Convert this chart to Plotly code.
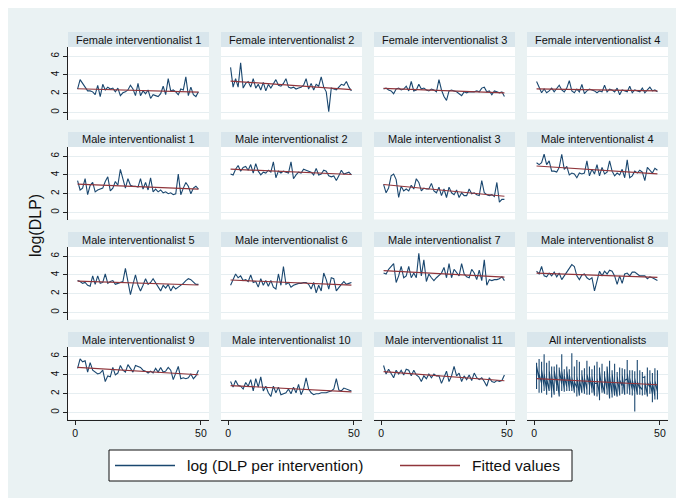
import numpy as np
import plotly.graph_objects as go

# ---------------- data ----------------
panel_titles = [
    "Female interventionalist 1", "Female interventionalist 2",
    "Female interventionalist 3", "Female interventionalist 4",
    "Male interventionalist 1", "Male interventionalist 2",
    "Male interventionalist 3", "Male interventionalist 4",
    "Male interventionalist 5", "Male interventionalist 6",
    "Male interventionalist 7", "Male interventionalist 8",
    "Male interventionalist 9", "Male interventionalist 10",
    "Male interventionalist 11", "All interventionalists",
]

female_1 = [2.5, 3.5, 3.1, 2.7, 2.3, 2.3, 2.2, 1.9, 2.9, 1.7,
            3.0, 2.4, 2.7, 2.5, 2.6, 2.2, 2.6, 1.8, 2.1, 2.2,
            2.4, 2.9, 2.5, 1.8, 3.1, 1.8, 2.3, 2.0, 2.4, 1.5,
            1.9, 1.8, 1.7, 2.0, 2.8, 1.9, 3.6, 2.3, 2.4, 2.2,
            1.9, 2.5, 2.4, 3.8, 1.8, 2.7, 1.9, 1.7, 2.2]
female_2 = [4.8, 2.7, 3.6, 2.7, 5.3, 2.6, 3.1, 3.3, 2.7, 3.6,
            2.6, 3.0, 2.4, 3.2, 2.3, 3.0, 2.6, 3.1, 3.5, 2.9,
            2.8, 3.1, 3.6, 2.7, 2.6, 2.7, 2.5, 2.6, 2.7, 2.9,
            3.6, 2.5, 3.1, 2.4, 3.0, 2.8, 3.8, 2.7, 2.2, 0.1,
            2.6, 2.5, 2.4, 2.7, 3.0, 2.9, 3.3, 2.7, 2.3]
female_3 = [2.5, 2.6, 2.4, 2.3, 2.0, 2.5, 2.6, 2.4, 2.5, 2.8,
            2.3, 3.3, 2.3, 2.4, 3.0, 2.5, 2.6, 2.4, 2.3, 2.5,
            2.4, 2.2, 3.5, 2.4, 1.7, 1.3, 2.3, 2.4, 2.3, 2.2,
            2.0, 1.8, 2.2, 2.1, 2.2, 2.2, 2.2, 2.3, 2.2, 2.6,
            2.7, 2.2, 2.3, 1.9, 2.3, 2.2, 2.1, 2.2, 1.7]
female_4 = [3.3, 2.6, 2.1, 2.5, 2.1, 2.3, 2.6, 2.2, 2.5, 2.9,
            2.4, 2.2, 2.6, 3.4, 2.3, 2.1, 2.5, 2.2, 3.0, 2.0,
            2.3, 2.5, 2.4, 2.3, 2.1, 2.3, 2.2, 2.9, 2.2, 2.5,
            2.4, 2.2, 2.6, 1.9, 2.4, 2.3, 2.2, 2.8, 2.1, 2.4,
            2.3, 2.2, 2.6, 2.1, 2.4, 2.7, 2.3, 2.4, 2.2]
male_1 = [3.4, 2.4, 2.6, 3.6, 1.9, 2.9, 3.2, 2.2, 2.4, 2.5,
          2.6, 3.3, 3.8, 2.3, 2.6, 3.3, 2.9, 4.6, 3.7, 2.6,
          3.6, 2.9, 2.8, 2.8, 2.7, 3.6, 2.5, 3.2, 2.4, 3.7,
          2.2, 2.5, 2.2, 2.4, 2.1, 2.2, 2.0, 2.1, 1.9, 2.0,
          4.1, 1.9, 2.6, 3.2, 2.8, 2.0, 2.6, 2.8, 2.5]
male_2 = [4.1, 4.0, 4.6, 5.0, 4.4, 4.8, 4.9, 4.5, 5.1, 4.2,
          5.2, 4.4, 4.0, 4.3, 4.2, 4.5, 4.3, 5.4, 3.7, 4.4,
          4.2, 4.4, 4.3, 4.2, 5.4, 3.6, 4.0, 4.3, 4.2, 4.6,
          4.5, 4.4, 4.3, 4.0, 4.7, 4.0, 4.1, 4.5, 4.4, 3.9,
          3.8, 3.9, 3.4, 3.9, 4.5, 4.1, 4.2, 4.3, 4.0]
male_3 = [3.0, 2.1, 2.6, 3.9, 4.1, 3.5, 1.6, 2.8, 2.3, 2.5,
          2.3, 2.9, 2.5, 3.6, 3.2, 2.3, 2.6, 2.5, 2.5, 3.1,
          2.3, 2.1, 2.7, 1.8, 2.5, 1.6, 2.7, 2.1, 1.9, 2.4,
          1.6, 2.1, 1.8, 1.8, 2.5, 2.0, 2.1, 1.9, 1.8, 3.4,
          2.1, 1.9, 1.8, 1.9, 1.7, 3.2, 1.1, 1.4, 1.4]
male_4 = [5.3, 5.1, 5.3, 6.2, 5.1, 5.5, 4.4, 4.4, 4.3, 4.8,
          6.2, 4.6, 4.9, 4.0, 4.2, 4.1, 3.7, 4.2, 4.1, 4.2,
          5.5, 3.9, 4.6, 4.1, 5.1, 3.9, 4.8, 4.1, 4.3, 5.5,
          4.4, 3.9, 4.2, 4.0, 4.6, 3.7, 5.6, 3.7, 3.9, 4.4,
          4.2, 4.5, 4.3, 3.4, 4.8, 4.5, 4.2, 4.7, 4.5]
male_5 = [3.4, 3.3, 3.1, 3.2, 2.9, 2.8, 3.9, 3.0, 3.9, 3.1,
          3.2, 4.1, 3.1, 3.3, 3.4, 3.0, 3.1, 3.2, 3.3, 4.7,
          3.2, 1.9, 3.0, 4.0, 2.9, 2.3, 2.9, 3.6, 3.0, 3.2,
          3.6, 3.2, 2.8, 2.3, 2.9, 2.6, 3.0, 2.3, 2.8, 2.5,
          2.7, 2.9, 3.1, 3.4, 3.6, 3.5, 3.2, 3.0, 3.0]
male_6 = [2.9, 3.5, 4.1, 3.7, 3.9, 3.4, 3.5, 3.3, 4.0, 3.2,
          3.3, 2.7, 3.6, 2.9, 3.4, 2.8, 3.4, 2.7, 2.5, 4.1,
          2.9, 4.9, 3.0, 3.2, 2.7, 2.9, 3.0, 3.1, 3.1, 3.2,
          3.2, 3.0, 2.5, 3.2, 2.1, 2.9, 2.3, 4.2, 3.5, 2.5,
          3.7, 3.6, 2.3, 2.7, 3.0, 3.3, 3.0, 3.1, 3.2]
male_7 = [4.2, 4.1, 4.6, 4.9, 5.2, 3.2, 3.9, 4.9, 3.7, 3.9,
          4.9, 3.7, 4.2, 3.7, 6.3, 3.9, 5.6, 3.3, 4.1, 3.7,
          3.4, 3.7, 4.0, 4.2, 4.8, 3.7, 5.2, 3.7, 4.6, 4.2,
          3.9, 5.2, 4.1, 3.8, 3.7, 4.6, 4.2, 3.5, 4.5, 3.4,
          5.6, 2.9, 3.5, 3.4, 3.5, 3.5, 3.6, 3.8, 3.4]
male_8 = [4.4, 4.1, 4.9, 3.9, 3.8, 4.2, 3.9, 4.3, 3.8, 4.2,
          3.5, 3.9, 4.2, 4.6, 5.1, 4.9, 3.9, 3.5, 4.0, 4.1,
          3.7, 3.5, 3.7, 2.3, 3.5, 4.4, 3.9, 4.4, 4.1, 4.5,
          4.4, 3.9, 3.0, 3.9, 3.1, 4.1, 4.2, 3.9, 4.3, 4.3,
          4.1, 3.9, 3.9, 3.9, 3.6, 3.8, 3.7, 3.5, 3.4]
male_9 = [4.7, 5.7, 5.4, 5.5, 4.3, 5.3, 4.5, 4.3, 4.1, 4.2,
          4.5, 3.3, 3.9, 3.8, 4.8, 4.0, 4.2, 5.0, 4.5, 4.3,
          5.1, 4.7, 4.3, 5.0, 4.9, 4.8, 4.5, 4.4, 4.2, 4.4,
          4.2, 4.7, 4.3, 4.8, 4.3, 4.4, 4.8, 4.5, 3.5, 4.2,
          4.9, 3.6, 3.7, 3.6, 3.7, 4.1, 3.6, 3.9, 4.5]
male_10 = [3.3, 2.7, 3.4, 2.9, 2.8, 2.5, 3.2, 2.8, 3.5, 2.3,
           3.6, 2.7, 3.8, 2.3, 2.8, 2.1, 1.7, 2.8, 2.1, 2.7,
           1.9, 2.0, 2.1, 2.5, 2.0, 2.7, 2.1, 3.0, 1.9, 2.5,
           3.7, 2.5, 2.1, 1.9, 2.0, 2.0, 2.1, 2.1, 2.1, 2.2,
           2.3, 2.5, 3.6, 2.4, 2.3, 2.6, 2.5, 2.4, 2.3]
male_11 = [5.0, 4.1, 4.6, 4.2, 3.7, 4.5, 4.1, 4.5, 4.0, 4.6,
           4.5, 3.9, 4.5, 4.0, 3.8, 3.3, 3.9, 3.6, 4.1, 3.7,
           4.1, 3.9, 3.9, 3.1, 3.7, 4.4, 3.3, 3.9, 4.9, 3.9,
           4.2, 3.3, 3.9, 3.5, 4.0, 3.4, 4.2, 3.7, 3.5, 3.7,
           3.3, 2.8, 3.7, 3.3, 3.2, 3.4, 3.3, 3.4, 4.0]

series_list = [female_1, female_2, female_3, female_4,
               male_1, male_2, male_3, male_4,
               male_5, male_6, male_7, male_8,
               male_9, male_10, male_11]

x_ticks = [0, 50]
y_ticks = [0, 2, 4, 6]
legend_labels = ["log (DLP per intervention)", "Fitted values"]

# ---------------- style / layout constants ----------------
W, H = 684, 498
FONT = "Liberation Sans, Arial, Helvetica, sans-serif"
BG = "#EAF2F3"
STRIP = "#D9E6EC"
GRID = "#E6EEF1"
BLUE = "#1A476F"
RED = "#90353B"

col_left = [60, 213, 366, 519]
col_w = 141
row_top = [24, 124, 224, 324]   # strip top
strip_h = 15
plot_h = 72.5
x_range = [-2.8, 53.2]
y_range = [-0.74, 6.97]

# build per-panel data (panel 16 = all observations, ordered by x)
panel_x, panel_y = [], []
for s in series_list:
    panel_x.append(list(range(1, len(s) + 1)))
    panel_y.append(list(s))
ax, ay = [], []
n_max = max(len(s) for s in series_list)
for t in range(n_max):
    for s in series_list:
        if t < len(s):
            ax.append(t + 1)
            ay.append(s[t])
panel_x.append(ax)
panel_y.append(ay)

fig = go.Figure()
shapes, annotations = [], []

for i in range(16):
    r, c = divmod(i, 4)
    k = i + 1
    xn = "x" if k == 1 else f"x{k}"
    yn = "y" if k == 1 else f"y{k}"
    x = np.array(panel_x[i], dtype=float)
    y = np.array(panel_y[i], dtype=float)
    slope, icpt = np.polyfit(x, y, 1)
    xs = np.unique(x)
    fit = icpt + slope * xs

    fig.add_trace(go.Scatter(x=x, y=y, mode="lines",
                             line=dict(color=BLUE, width=1.1),
                             xaxis=xn, yaxis=yn, showlegend=False,
                             hoverinfo="skip"))
    fig.add_trace(go.Scatter(x=xs, y=fit, mode="lines",
                             line=dict(color=RED, width=1.2),
                             xaxis=xn, yaxis=yn, showlegend=False,
                             hoverinfo="skip"))

    x0 = col_left[c] / W
    x1 = (col_left[c] + col_w) / W
    ytop = row_top[r] + strip_h
    y1 = 1 - ytop / H
    y0 = 1 - (ytop + plot_h) / H
    bottom = (r == 3)
    left = (c == 0)

    fig.layout[f"xaxis{k if k > 1 else ''}"] = dict(
        domain=[x0, x1], range=x_range, anchor=yn,
        showgrid=False, zeroline=False,
        showline=bottom, linecolor="#222222", linewidth=1,
        ticks="outside" if bottom else "", ticklen=4, tickcolor="#222222",
        tickvals=x_ticks, showticklabels=bottom,
        tickfont=dict(family=FONT, size=10.5, color="#111111"),
        fixedrange=True,
    )
    fig.layout[f"yaxis{k if k > 1 else ''}"] = dict(
        domain=[y0, y1], range=y_range, anchor=xn,
        showgrid=True, gridcolor=GRID, gridwidth=1, zeroline=False,
        showline=left, linecolor="#222222", linewidth=1,
        ticks="outside" if left else "", ticklen=4, tickcolor="#222222",
        tickvals=y_ticks, showticklabels=left, tickangle=-90,
        tickfont=dict(family=FONT, size=10, color="#111111"),
        fixedrange=True,
    )

    # strip with panel title
    shapes.append(dict(type="rect", xref="paper", yref="paper",
                       x0=x0, x1=x1, y0=y1, y1=1 - row_top[r] / H,
                       fillcolor=STRIP, line=dict(width=0), layer="below"))
    annotations.append(dict(text=panel_titles[i], xref="paper", yref="paper",
                            x=(x0 + x1) / 2,
                            y=1 - (row_top[r] + strip_h / 2) / H,
                            xanchor="center", yanchor="middle", showarrow=False,
                            font=dict(family=FONT, size=11, color="#111111")))

# y-axis title
annotations.append(dict(text="log(DLP)", xref="paper", yref="paper",
                        x=27 / W, y=1 - 218 / H, textangle=-90,
                        xanchor="center", yanchor="middle", showarrow=False,
                        font=dict(family=FONT, size=16, color="#111111")))

# legend box
lg_top, lg_bot = 442, 473
lg_mid = (lg_top + lg_bot) / 2
shapes.append(dict(type="rect", xref="paper", yref="paper",
                   x0=101 / W, x1=564 / W, y0=1 - lg_bot / H, y1=1 - lg_top / H,
                   fillcolor="white", line=dict(color="#111111", width=1)))
for (sx0, sx1, tx, col, lab) in [(107, 167, 177, BLUE, legend_labels[0]),
                                  (392, 452, 462, RED, legend_labels[1])]:
    shapes.append(dict(type="line", xref="paper", yref="paper",
                       x0=sx0 / W, x1=sx1 / W, y0=1 - lg_mid / H, y1=1 - lg_mid / H,
                       line=dict(color=col, width=1.3)))
    annotations.append(dict(text=lab, xref="paper", yref="paper",
                            x=tx / W, y=1 - lg_mid / H, xanchor="left",
                            yanchor="middle", showarrow=False,
                            font=dict(family=FONT, size=15.5, color="#111111")))

fig.update_layout(
    width=W, height=H,
    margin=dict(l=0, r=0, t=0, b=0),
    paper_bgcolor=BG, plot_bgcolor="white",
    shapes=shapes, annotations=annotations,
    showlegend=False,
    font=dict(family=FONT),
)

fig.write_html("out.html")
